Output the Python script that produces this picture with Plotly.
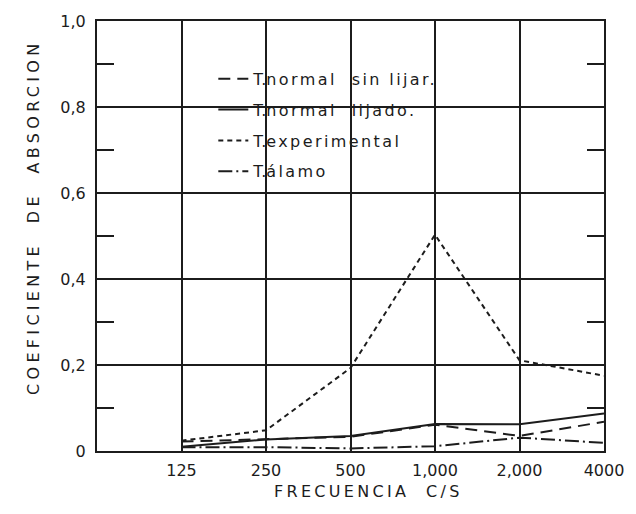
import math
import plotly.graph_objects as go

freqs = [125, 250, 500, 1000, 2000, 4000]
freq_labels = ["125", "250", "500", "1,000", "2,000", "4000"]
sin_lijar = [0.022, 0.027, 0.033, 0.061, 0.035, 0.068]
lijado = [0.01, 0.027, 0.035, 0.063, 0.062, 0.087]
experimental = [0.024, 0.048, 0.193, 0.503, 0.211, 0.175]
alamo = [0.009, 0.009, 0.006, 0.011, 0.031, 0.019]
y_ticks = [0, 0.2, 0.4, 0.6, 0.8, 1.0]
y_labels = ["0", "0,2", "0,4", "0,6", "0,8", "1,0"]
y_minor = [0.1, 0.3, 0.5, 0.7, 0.9]

INK = "#1c1c1c"
FONT = "DejaVu Sans"

# plot-area geometry in pixels (for paper-coordinate placement of text)
L, R, T, B, W, H = 97, 29, 20, 63, 636, 514
PW, PH = W - L - R, H - T - B


def px(x):
    return (x - L) / PW


def py(y):
    return (H - B - y) / PH


def spaced(text, sp):
    return f'<span style="letter-spacing:{sp}px">{text}</span>'


def legend_label(name):
    head, rest = name[:2], name[2:]
    return head + spaced(rest, 2.4) + "&nbsp;" * 8


fig = go.Figure()
series = [
    ("T.normal  sin lijar.", sin_lijar, "12px,7px"),
    ("T.normal  lijado.", lijado, "solid"),
    ("T.experimental", experimental, "5px,4px"),
    ("T.álamo", alamo, "14px,4px,2px,4px"),
]
for i, (name, vals, dash) in enumerate(series):
    fig.add_trace(go.Scatter(
        x=freqs, y=vals, mode="lines",
        name=legend_label(name), legendgroup=f"g{i}",
        line=dict(color=INK, width=2, dash=dash),
    ))

# invisible trace for the secondary (minor tick) axis
fig.add_trace(go.Scatter(x=[freqs[0]], y=[0], yaxis="y2", mode="markers",
                         marker=dict(opacity=0), showlegend=False, hoverinfo="skip"))

fig.update_layout(
    width=W, height=H,
    margin=dict(l=L, r=R, t=T, b=B),
    paper_bgcolor="white", plot_bgcolor="white",
    font=dict(family=FONT, color=INK, size=16),
    showlegend=True,
    legend=dict(x=px(214), y=py(61), xanchor="left", yanchor="top",
                bgcolor="rgba(0,0,0,0)", font=dict(size=16, family=FONT),
                tracegroupgap=7, itemwidth=30),
    xaxis=dict(type="log", range=[math.log10(62.5), math.log10(4000)],
               tickvals=freqs, ticktext=freq_labels, ticks="",
               showgrid=True, gridcolor=INK, gridwidth=1.5,
               showline=True, linecolor=INK, linewidth=2, mirror=True,
               zeroline=False, tickfont=dict(size=16), ticklabelstandoff=4),
    yaxis=dict(range=[0, 1.0], tickvals=y_ticks, ticktext=y_labels, ticks="",
               showgrid=True, gridcolor=INK, gridwidth=1.5,
               showline=True, linecolor=INK, linewidth=2, mirror=True,
               zeroline=False, tickfont=dict(size=16), ticklabelstandoff=6),
    yaxis2=dict(range=[0, 1.0], overlaying="y", side="left", tickvals=y_minor,
                ticks="inside", ticklen=17, tickwidth=1.5, tickcolor=INK,
                showticklabels=False, showgrid=False, zeroline=False,
                mirror="ticks", showline=True, linecolor=INK, linewidth=2),
    shapes=[
        dict(type="rect", xref="paper", yref="paper", layer="between",
             x0=px(184), x1=px(432), y0=py(186), y1=py(43),
             fillcolor="white", line=dict(width=0)),
        dict(type="rect", xref="paper", yref="paper", layer="between",
             x0=px(430), x1=px(476), y0=py(152), y1=py(52),
             fillcolor="white", line=dict(width=0)),
    ],
    annotations=[
        dict(text=spaced("FRECUENCIA  C/S", 3.3), xref="paper", yref="paper",
             x=px(370), y=py(492), showarrow=False,
             font=dict(size=16, family=FONT), xanchor="center", yanchor="middle"),
        dict(text=spaced("COEFICIENTE  DE  ABSORCION", 4.3), xref="paper", yref="paper",
             x=px(33), y=py(217), showarrow=False,
             textangle=-90, font=dict(size=16, family=FONT),
             xanchor="center", yanchor="middle"),
    ],
)

fig.write_html("out.html")
